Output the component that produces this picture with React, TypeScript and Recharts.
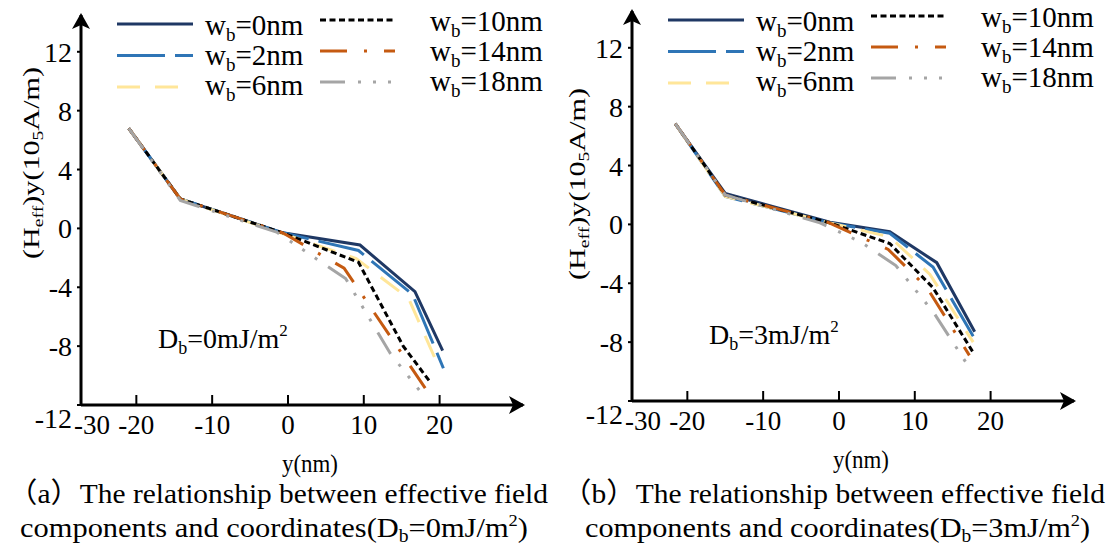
import { LineChart, Line, XAxis, YAxis } from 'recharts';

type Pt = [number, number];

const serif = '"Liberation Serif", "Times New Roman", "Noto Sans CJK SC", serif';

// w_b of each series
const wbLabels = ['0nm', '2nm', '6nm', '10nm', '14nm', '18nm'];
const colors = ['#1f3864', '#2e75b6', '#ffe699', '#000000', '#c55a11', '#a5a5a5'];
const dashes = ['0', '48 10', '23 15', '6 3.5', '27 17 3 17', '25 13 3 12 3 12 3 13'];

const xTicks = [-20, -10, 0, 10, 20];
const yTicks = [-12, -8, -4, 0, 4, 8, 12];
const xMin = -27.3; // y axis crosses here, the figure labels it -30
const xMax = 31;
const originXLabel = '-30';
const yMin = -12;
const yMax = 14.5;

// Db = 0 mJ/m2
const a0: Pt[] = [[-21, 6.8], [-14.2, 2.0], [-0.7, -0.3], [9.5, -1.13], [16.75, -4.3], [20.4, -8.3]];
const a2: Pt[] = [[-21, 6.8], [-14.2, 2.0], [-0.7, -0.3], [9.3, -1.5], [16.45, -4.5], [20.5, -9.5]];
const a6: Pt[] = [[-21, 6.8], [-14.2, 2.0], [-0.7, -0.35], [9.0, -2.05], [15.9, -4.75], [20.05, -9.6]];
const a10: Pt[] = [[-21, 6.8], [-14.2, 2.0], [-0.7, -0.3], [9.3, -2.3], [15.2, -8.0], [18.7, -10.4]];
const a14: Pt[] = [[-21, 6.8], [-14.2, 2.0], [-0.7, -0.3], [7.4, -2.7], [18.1, -10.85]];
const a18: Pt[] = [[-21, 6.8], [-14.2, 1.9], [-1.5, -0.25], [7.6, -3.4], [13.5, -8.5], [17.8, -11.3]];

// Db = 3 mJ/m2
const b0: Pt[] = [[-21.6, 6.85], [-15.0, 2.1], [-1.2, 0.15], [6.7, -0.5], [12.9, -2.6], [17.9, -7.3]];
const b2: Pt[] = [[-21.6, 6.85], [-15.0, 1.9], [-1.2, 0.1], [6.7, -0.6], [12.4, -2.9], [17.7, -7.6]];
const b6: Pt[] = [[-21.6, 6.85], [-15.0, 1.9], [-1.2, 0.1], [6.7, -0.85], [12.0, -3.4], [17.7, -8.0]];
const b10: Pt[] = [[-21.6, 6.85], [-15.0, 2.0], [-1.2, 0.1], [6.7, -1.3], [12.4, -4.3], [17.7, -8.7]];
const b14: Pt[] = [[-21.6, 6.85], [-15.0, 2.0], [-1.5, 0.15], [6.5, -1.7], [11.6, -4.3], [17.2, -8.9]];
const b18: Pt[] = [[-21.6, 6.85], [-15.0, 2.0], [-2.5, 0.1], [2.9, -1.2], [7.5, -2.8], [12.5, -6.0], [16.9, -9.5]];

const seriesA = [a0, a2, a6, a10, a14, a18];
const seriesB = [b0, b2, b6, b10, b14, b18];

const toRows = (pts: Pt[]) => pts.map(([x, y]) => ({ x, y }));

function XTick(props: any) {
  const { x, y, payload } = props;
  const origin = payload.value === xMin;
  return (
    <text
      x={origin ? x - 7 : x}
      y={y}
      dy={29}
      textAnchor={origin ? 'start' : 'middle'}
      fontSize={27}
      fontFamily={serif}
      fill="#000"
    >
      {origin ? originXLabel : payload.value}
    </text>
  );
}

function YTick(props: any) {
  const { x, y, payload } = props;
  const bottom = payload.value === yMin;
  return (
    <text x={x} y={y} dy={bottom ? 23 : 10} textAnchor="end" fontSize={28} fontFamily={serif} fill="#000">
      {payload.value}
    </text>
  );
}

interface PanelProps {
  series: Pt[][];
  left: number;
  top: number;
  dbValue: string;
  yLabelPos: [number, number];
}

function Panel({ series, left, top, dbValue, yLabelPos }: PanelProps) {
  const [lx, ly] = yLabelPos;
  return (
    <div style={{ position: 'absolute', left, top, width: 556, height: 548 }}>
      <LineChart width={556} height={548} margin={{ top: 15, right: 33, bottom: 103, left: 21 }}>
        <XAxis
          type="number"
          dataKey="x"
          domain={[xMin, xMax]}
          ticks={[xMin, ...xTicks]}
          allowDataOverflow
          interval={0}
          height={40}
          axisLine={{ stroke: '#000', strokeWidth: 3, markerEnd: 'url(#axisArrow)' }}
          tickLine={{ stroke: '#000', strokeWidth: 2 }}
          tickSize={-10}
          tickMargin={10}
          tick={<XTick />}
        />
        <YAxis
          type="number"
          domain={[yMin, yMax]}
          ticks={yTicks}
          allowDataOverflow
          interval={0}
          width={60}
          axisLine={{ stroke: '#000', strokeWidth: 3, markerStart: 'url(#axisArrow)' }}
          tickLine={{ stroke: '#000', strokeWidth: 2 }}
          tickSize={4}
          tickMargin={5}
          tick={<YTick />}
        />
        {series.map((pts, i) => (
          <Line
            key={wbLabels[i]}
            name={wbLabels[i]}
            data={toRows(pts)}
            dataKey="y"
            type="linear"
            stroke={colors[i]}
            strokeWidth={3}
            strokeDasharray={dashes[i]}
            dot={false}
            activeDot={false}
            isAnimationActive={false}
          />
        ))}
      </LineChart>
      <svg width={556} height={548} style={{ position: 'absolute', left: 0, top: 0, pointerEvents: 'none' }}>
        {wbLabels.map((lab, i) => {
          const col = i < 3 ? 0 : 1;
          const row = i % 3;
          const lineY = col === 0 ? 24 + row * 31.5 : 20 + row * 31;
          const textY = col === 0 ? 35 + row * 30 : 31 + row * 30;
          const x1 = col === 0 ? 117 : 320;
          const x2 = col === 0 ? 193 : 395;
          const tx = col === 0 ? 205 : 430;
          return (
            <g key={lab}>
              <line x1={x1} x2={x2} y1={lineY} y2={lineY} stroke={colors[i]} strokeWidth={3} strokeDasharray={dashes[i]} />
              <text x={tx} y={textY} fontSize={29} fontFamily={serif} fill="#000">
                w<tspan fontSize={19} dy={6}>b</tspan>
                <tspan dy={-6}>={lab}</tspan>
              </text>
            </g>
          );
        })}
        <text x={158} y={348} fontSize={28} fontFamily={serif} fill="#000">
          D<tspan fontSize={18} dy={6}>b</tspan>
          <tspan dy={-6}>={dbValue}mJ/m</tspan>
          <tspan fontSize={17} dy={-12}>2</tspan>
        </text>
        <text x={310} y={472} textAnchor="middle" fontSize={25} fontFamily={serif} fill="#000" textLength={56} lengthAdjust="spacingAndGlyphs">
          y(nm)
        </text>
        <text
          x={lx}
          y={ly + 8}
          transform={`rotate(-90 ${lx} ${ly})`}
          textAnchor="middle"
          fontSize={23}
          fontFamily={serif}
          fill="#000"
          textLength={192}
          lengthAdjust="spacingAndGlyphs"
        >
          (H<tspan fontSize={15} dy={4}>eff</tspan>
          <tspan dy={-4}>)y(10</tspan>
          <tspan fontSize={15} dy={4}>5</tspan>
          <tspan dy={-4}>A/m)</tspan>
        </text>
      </svg>
    </div>
  );
}

function Caption({ x, y, width, children }: { x: number; y: number; width: number; children: any }) {
  return (
    <text x={x} y={y} fontSize={28} fontFamily={serif} fill="#000" textLength={width} lengthAdjust="spacingAndGlyphs">
      {children}
    </text>
  );
}

export default function App() {
  return (
    <div style={{ position: 'absolute', left: 0, top: 0, width: 1113, height: 548, background: '#fff', overflow: 'hidden' }}>
      <svg width={0} height={0} style={{ position: 'absolute' }}>
        <defs>
          <marker
            id="axisArrow"
            markerUnits="userSpaceOnUse"
            markerWidth={18}
            markerHeight={18}
            refX={14}
            refY={9}
            orient="auto-start-reverse"
            overflow="visible"
          >
            <path d="M0,0 L16,9 L0,18 L4,9 Z" fill="#000" />
          </marker>
        </defs>
      </svg>
      <Panel series={seriesA} left={0} top={0} dbValue="0" yLabelPos={[31, 163]} />
      <Panel series={seriesB} left={551} top={-4} dbValue="3" yLabelPos={[26, 188]} />
      <svg width={1113} height={548} style={{ position: 'absolute', left: 0, top: 0, pointerEvents: 'none' }}>
        <Caption x={8} y={503} width={540}>
          （a）The relationship between effective field
        </Caption>
        <Caption x={20} y={537} width={508}>
          components and coordinates(D<tspan fontSize={18} dy={5}>b</tspan>
          <tspan dy={-5}>=0mJ/m</tspan>
          <tspan fontSize={17} dy={-11}>2</tspan>
          <tspan dy={11}>)</tspan>
        </Caption>
        <Caption x={562} y={503} width={543}>
          （b）The relationship between effective field
        </Caption>
        <Caption x={585} y={537} width={505}>
          components and coordinates(D<tspan fontSize={18} dy={5}>b</tspan>
          <tspan dy={-5}>=3mJ/m</tspan>
          <tspan fontSize={17} dy={-11}>2</tspan>
          <tspan dy={11}>)</tspan>
        </Caption>
      </svg>
    </div>
  );
}
